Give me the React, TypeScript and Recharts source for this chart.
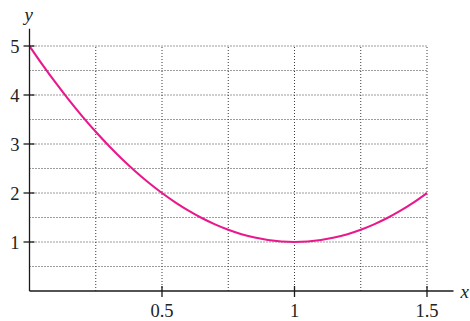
import React from "react";
import { LineChart, Line, XAxis, YAxis, ReferenceLine, Label } from "recharts";

const xValues = [0, 0.05, 0.1, 0.15, 0.2, 0.25, 0.3, 0.35, 0.4, 0.45, 0.5, 0.55, 0.6, 0.65, 0.7, 0.75, 0.8, 0.85, 0.9, 0.95, 1, 1.05, 1.1, 1.15, 1.2, 1.25, 1.3, 1.35, 1.4, 1.45, 1.5];
const yValues = [5, 4.61, 4.24, 3.89, 3.56, 3.25, 2.96, 2.69, 2.44, 2.21, 2, 1.81, 1.64, 1.49, 1.36, 1.25, 1.16, 1.09, 1.04, 1.01, 1, 1.01, 1.04, 1.09, 1.16, 1.25, 1.36, 1.49, 1.64, 1.81, 2];
const xTicks = [0.5, 1, 1.5];
const xTickLabels = ["0.5", "1", "1.5"];
const yTicks = [1, 2, 3, 4, 5];
const hGrid = [0.5, 1, 1.5, 2, 2.5, 3, 3.5, 4, 4.5, 5];
const vGrid = [0.25, 0.5, 0.75, 1, 1.25, 1.5];

const data = xValues.map((x, i) => ({ x, y: yValues[i] }));

const FONT = "'Liberation Serif', 'Times New Roman', serif";
const AXIS = "#1a1a1a";
const GRID = "#3a3a3a";
const CURVE = "#e8198b";

const XTick = (props: any) => {
  const { x, y, payload } = props;
  const idx = xTicks.indexOf(payload.value);
  return (
    <g>
      <line x1={x} x2={x} y1={y - 5} y2={y + 6} stroke={AXIS} strokeWidth={1.3} />
      <text x={x} y={y + 26} textAnchor="middle" fontFamily={FONT} fontSize={18.5} fill="#222">
        {idx >= 0 ? xTickLabels[idx] : payload.value}
      </text>
    </g>
  );
};

const YTick = (props: any) => {
  const { x, y, payload } = props;
  return (
    <g>
      <line x1={x - 6} x2={x + 5} y1={y} y2={y} stroke={AXIS} strokeWidth={1.3} />
      <text x={x - 10} y={y + 7} textAnchor="end" fontFamily={FONT} fontSize={18.5} fill="#222">
        {payload.value}
      </text>
    </g>
  );
};

export default function App() {
  return (
    <div style={{ position: "absolute", left: 0, top: 0, width: 470, height: 321, background: "#fff" }}>
      <LineChart
        width={470}
        height={321}
        data={data}
        margin={{ top: 28.85, right: 16.5, bottom: 0, left: 0 }}
      >
        {hGrid.map((v) => (
          <ReferenceLine
            key={"h" + v}
            segment={[{ x: 0, y: v }, { x: 1.5, y: v }]}
            stroke={GRID}
            strokeWidth={1}
            strokeDasharray="1 2"
          />
        ))}
        {vGrid.map((v) => (
          <ReferenceLine
            key={"v" + v}
            segment={[{ x: v, y: 0 }, { x: v, y: 5 }]}
            stroke={GRID}
            strokeWidth={1}
            strokeDasharray="1 2"
          />
        ))}
        <XAxis
          dataKey="x"
          type="number"
          domain={[0, 1.6]}
          ticks={xTicks}
          height={30}
          tickSize={0}
          tickMargin={0}
          tickLine={false}
          axisLine={{ stroke: AXIS, strokeWidth: 1.3 }}
          tick={<XTick />}
          allowDataOverflow
        >
          <Label
            content={(p: any) => {
              const vb = p.viewBox;
              return (
                <text x={vb.x + vb.width + 7} y={vb.y + 7} fontFamily={FONT} fontStyle="italic" fontSize={19} fill="#222">
                  x
                </text>
              );
            }}
          />
        </XAxis>
        <YAxis
          type="number"
          domain={[0, 5.35]}
          ticks={yTicks}
          width={29.5}
          tickSize={0}
          tickMargin={0}
          tickLine={false}
          axisLine={{ stroke: AXIS, strokeWidth: 1.3 }}
          tick={<YTick />}
          allowDataOverflow
        >
          <Label
            content={(p: any) => {
              const vb = p.viewBox;
              return (
                <text x={vb.x + vb.width - 5} y={vb.y - 8} fontFamily={FONT} fontStyle="italic" fontSize={19} fill="#222">
                  y
                </text>
              );
            }}
          />
        </YAxis>
        <Line
          type="monotone"
          dataKey="y"
          stroke={CURVE}
          strokeWidth={2.1}
          dot={false}
          isAnimationActive={false}
        />
      </LineChart>
    </div>
  );
}
